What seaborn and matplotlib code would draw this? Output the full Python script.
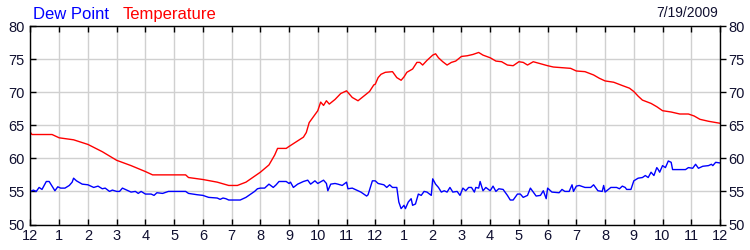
import matplotlib
matplotlib.use("Agg")
import matplotlib.pyplot as plt
import seaborn as sns
import pandas as pd

temp_hours = [0.0, 0.05, 0.75, 1.0, 1.5, 2.0, 2.5, 3.0, 3.5, 4.0, 4.25, 5.4, 5.5, 6.0, 6.5, 6.9, 7.2, 7.5,
              8.0, 8.3, 8.5, 8.6, 8.9, 9.0, 9.5, 9.6, 9.7, 10.0, 10.1, 10.2, 10.3, 10.4, 10.6, 10.8, 11.0,
              11.2, 11.4, 11.6, 11.8, 11.95,
              12.0, 12.1, 12.2, 12.35, 12.6, 12.75, 12.9, 13.0, 13.1, 13.3, 13.45, 13.55, 13.65, 13.8,
              14.0, 14.1, 14.2, 14.35, 14.5, 14.65, 14.8, 15.0, 15.2, 15.4, 15.6, 15.75, 16.0, 16.2,
              16.4, 16.6, 16.8, 17.0, 17.15, 17.3, 17.5, 17.75, 18.0, 18.2, 18.5, 18.8, 19.0, 19.3,
              19.6, 19.8, 20.0, 20.3, 20.6, 20.85, 21.0, 21.15, 21.3, 21.6, 21.8, 22.0, 22.3, 22.6,
              22.9, 23.1, 23.3, 23.6, 24.0]
temp_values = [63.9, 63.6, 63.6, 63.1, 62.8, 62.1, 61.0, 59.7, 58.9, 58.0, 57.5, 57.5, 57.1, 56.8, 56.4, 55.9, 55.9, 56.4,
               57.9, 59.0, 60.5, 61.5, 61.5, 61.8, 63.2, 63.9, 65.4, 67.2, 68.5, 68.0, 68.7, 68.2, 68.9, 69.8, 70.2,
               69.2, 68.7, 69.4, 70.1, 71.1,
               71.2, 72.2, 72.7, 73.0, 73.1, 72.2, 71.8, 72.3, 73.0, 73.5, 74.5, 74.5, 74.1, 74.8,
               75.6, 75.8, 75.2, 74.6, 74.1, 74.5, 74.7, 75.4, 75.5, 75.7, 76.0, 75.6, 75.2, 74.7,
               74.6, 74.1, 74.0, 74.6, 74.5, 74.1, 74.6, 74.3, 74.0, 73.8, 73.7, 73.6, 73.2, 73.1,
               72.6, 72.1, 71.7, 71.5, 71.0, 70.6, 70.1, 69.4, 68.8, 68.3, 67.8, 67.2, 67.0, 66.7,
               66.7, 66.4, 65.9, 65.6, 65.3]

dew_hours = [0.0, 0.1, 0.2, 0.3, 0.4, 0.55, 0.65, 0.75, 0.85, 0.95, 1.05, 1.2, 1.35, 1.45, 1.5, 1.6, 1.8,
             2.0, 2.2, 2.35, 2.5, 2.6, 2.75, 2.85, 3.0, 3.1, 3.2, 3.35, 3.5, 3.65, 3.75, 3.85, 4.0, 4.2,
             4.3, 4.4, 4.6, 4.8, 5.4, 5.5, 5.8, 6.0, 6.2, 6.5, 6.6, 6.7, 6.8, 6.9, 7.3, 7.5, 7.8, 7.9,
             8.0, 8.15, 8.3, 8.45, 8.55, 8.65, 8.9, 9.0, 9.05, 9.15, 9.3, 9.5, 9.65, 9.75, 9.9, 10.0,
             10.2, 10.3, 10.35, 10.45, 10.6, 10.7, 10.85, 11.0, 11.05, 11.2, 11.5, 11.7, 11.75, 11.85,
             11.9, 12.0,
             12.1, 12.3, 12.4, 12.5, 12.6, 12.75, 12.82, 12.9, 13.0, 13.05, 13.15, 13.25, 13.3, 13.4,
             13.5, 13.6, 13.7, 13.8, 13.95, 14.0, 14.1, 14.2, 14.3, 14.4, 14.5, 14.6, 14.7, 14.85,
             14.95, 15.05, 15.15, 15.25, 15.35, 15.45, 15.5, 15.6, 15.65, 15.75, 15.85, 16.0, 16.1,
             16.2, 16.3, 16.45, 16.6, 16.7, 16.8, 16.95, 17.05, 17.15, 17.3, 17.4, 17.5, 17.6, 17.75,
             17.85, 17.95, 18.0, 18.15, 18.4, 18.5, 18.6, 18.75, 18.85, 18.9, 19.0, 19.1, 19.3, 19.5,
             19.6, 19.75, 19.9, 19.95, 20.0, 20.2, 20.4, 20.5, 20.6, 20.7, 20.75, 20.9, 21.0, 21.15,
             21.3, 21.4, 21.5, 21.6, 21.7, 21.8, 21.85, 21.9, 22.0, 22.1, 22.2, 22.3, 22.35, 22.6,
             22.8, 22.9, 23.05, 23.15, 23.25, 23.4, 23.6, 23.7, 23.75, 23.85, 24.0]
dew_values = [55.0, 55.2, 55.0, 55.6, 55.3, 56.5, 56.5, 55.8, 55.1, 55.7, 55.5, 55.5, 55.9, 56.4, 57.0, 56.6, 56.1,
              56.0, 55.6, 55.8, 55.4, 55.5, 55.0, 55.2, 55.0, 55.0, 55.5, 55.2, 54.9, 55.0, 54.7, 55.0, 54.6, 54.6,
              54.4, 54.8, 54.7, 55.0, 55.0, 54.7, 54.5, 54.4, 54.1, 54.0, 53.8, 54.0, 53.9, 53.7, 53.7, 54.1, 55.0, 55.4,
              55.5, 55.5, 56.1, 55.6, 56.0, 56.5, 56.5, 56.2, 56.4, 55.6, 56.1, 56.5, 56.7, 56.1, 56.6, 56.2,
              56.7, 56.2, 55.1, 56.1, 56.2, 56.1, 55.9, 56.4, 55.4, 55.5, 54.9, 54.3, 54.5, 55.9,
              56.6, 56.6,
              56.2, 56.0, 55.6, 56.0, 55.6, 55.6, 53.4, 52.4, 52.9, 52.4, 53.4, 53.9, 52.9, 53.1,
              54.6, 54.4, 55.0, 54.9, 54.4, 56.9, 56.1, 55.6, 54.9, 55.1, 54.9, 55.6, 54.9, 55.0,
              54.4, 55.5, 55.1, 55.6, 55.6, 54.9, 55.6, 55.5, 56.5, 55.1, 55.6, 55.1, 55.8,
              55.0, 55.4, 55.3, 54.4, 53.7, 53.7, 54.6, 54.6, 54.1, 54.4, 55.5, 54.9, 54.3, 54.4,
              55.1, 53.9, 55.5, 54.9, 54.8, 55.3, 55.0, 55.0, 56.0, 55.0, 55.8, 55.9, 55.6, 55.6,
              56.0, 55.1, 55.0, 55.9, 54.9, 55.6, 55.6, 55.4, 55.8, 55.6, 55.3, 55.3, 56.6, 57.0,
              57.1, 57.4, 57.1, 57.9, 57.4, 58.6, 58.3, 57.9, 58.9, 58.6, 59.6, 59.4, 58.3, 58.3,
              58.3, 58.6, 58.5, 59.1, 58.5, 58.8, 58.9, 59.1, 58.9, 59.4, 59.3]

hour_ticks = list(range(25))
hour_labels = ["12", "1", "2", "3", "4", "5", "6", "7", "8", "9", "10", "11",
               "12", "1", "2", "3", "4", "5", "6", "7", "8", "9", "10", "11", "12"]
y_ticks = [50, 55, 60, 65, 70, 75, 80]

sns.set_theme(style="white")
plt.rcParams["font.family"] = ["Liberation Sans", "DejaVu Sans"]

temp_df = pd.DataFrame({"hour": temp_hours, "value": temp_values})
dew_df = pd.DataFrame({"hour": dew_hours, "value": dew_values})

fig = plt.figure(figsize=(7.5, 2.5), dpi=100)
ax = fig.add_axes([30.5 / 750, 1 - 224.5 / 250, 689.5 / 750, 198.5 / 250])

sns.lineplot(data=temp_df, x="hour", y="value", color="#ff0000", linewidth=1.0, ax=ax, estimator=None)
sns.lineplot(data=dew_df, x="hour", y="value", color="#0000ff", linewidth=1.0, ax=ax, estimator=None)

ax.set_xlim(0, 24)
ax.set_ylim(50, 80)
ax.set_xticks(hour_ticks)
ax.set_xticklabels(hour_labels)
ax.set_yticks(y_ticks)
ax.set_xlabel("")
ax.set_ylabel("")
ax.grid(True, color="#d0d0d0", linewidth=1.0)
ax.set_axisbelow(True)
for s in ax.spines.values():
    s.set_color("black")
    s.set_linewidth(1.0)

ax.tick_params(axis="x", which="both", direction="in", length=4, width=1, color="black",
               top=True, bottom=True, labelsize=10.5, pad=3, labelcolor="#101030")
ax.tick_params(axis="y", which="both", direction="in", length=4, width=1, color="black",
               left=True, right=False, labelsize=10.5, pad=4, labelcolor="#101030")

ax2 = ax.twinx()
ax2.set_ylim(50, 80)
ax2.set_yticks(y_ticks)
ax2.grid(False)
ax2.tick_params(axis="y", direction="out", length=4, width=1, color="black",
                right=True, labelsize=10.5, pad=2, labelcolor="#101030")
for s in ax2.spines.values():
    s.set_visible(False)

fig.text(33 / 750, 1 - 19 / 250, "Dew Point", color="#0000ff", fontsize=12, ha="left", va="baseline")
fig.text(123 / 750, 1 - 19 / 250, "Temperature", color="#ff0000", fontsize=12, ha="left", va="baseline")
fig.text(718 / 750, 1 - 17 / 250, "7/19/2009", color="#101030", fontsize=10, ha="right", va="baseline")

fig.savefig("out.png", dpi=100)
